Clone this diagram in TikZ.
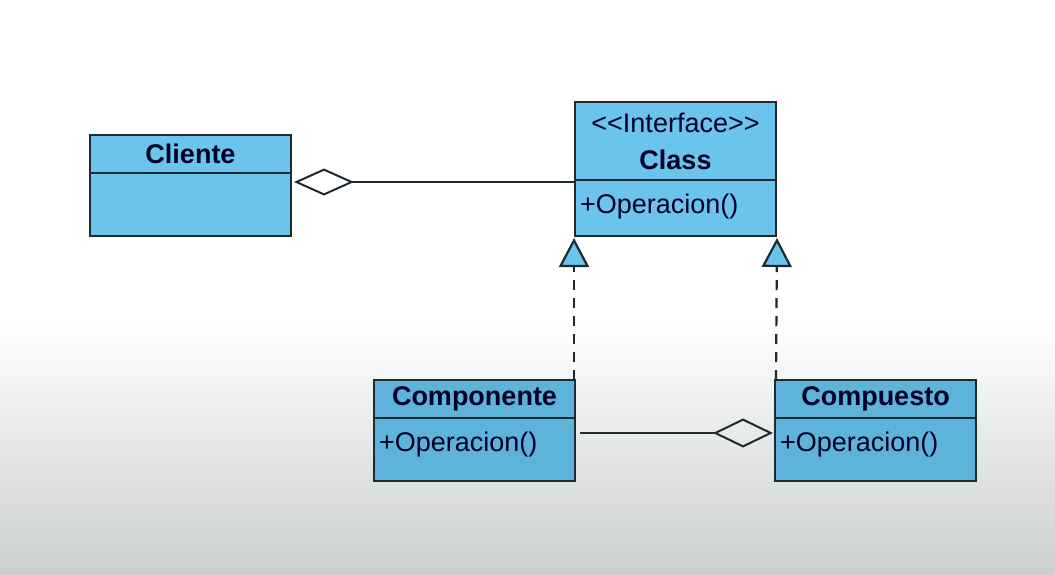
\documentclass[tikz,border=0pt]{standalone}
\usepackage{fontspec}
\setmainfont{Liberation Sans}[Ligatures=TeXOff]
\usetikzlibrary{positioning, arrows.meta}

\definecolor{boxblue}{HTML}{6AC4EB}
\definecolor{boxbluedk}{HTML}{5EB3DB}
\definecolor{lineblk}{HTML}{1E2A30}
\definecolor{bggray}{HTML}{CBCFCE}

\tikzstyle{head} = [rectangle, minimum width=201pt, minimum height=38pt,
    inner sep=0pt, outer sep=0pt, text centered, draw=lineblk, line width=2pt,
    fill=boxblue, text=black!85!blue, font=\fontsize{27}{32}\selectfont\bfseries]
\tikzstyle{body} = [rectangle, text width=191pt, inner xsep=5pt, inner ysep=0pt,
    outer sep=0pt, text height=33pt, text depth=30pt, align=left, draw=lineblk,
    line width=2pt, fill=boxblue, text=black!85!blue,
    font=\fontsize{27}{32}\selectfont]
\tikzstyle{aggr} = [line width=2pt, draw=lineblk,
    <-, >={Diamond[open, length=60pt, width=27pt, sep=3pt]}]
\tikzstyle{real} = [line width=2.2pt, draw=lineblk, dash pattern=on 10pt off 8pt,
    ->, >={Triangle[fill=boxblue, length=29pt, width=30pt, sep=2pt]}]

\begin{document}
\begin{tikzpicture}[x=1pt, y=1pt]

% Background
\fill [white] (0,0) rectangle (1055,-320);
\shade [top color=white, bottom color=bggray] (0,-320) rectangle (1055,-574);
\useasboundingbox (0,0) rectangle (1055,-574);

% Nodes
\node (cli) [head] at (190.5,-154) {Cliente};
\node (clib) [body, below=0pt of cli] {};
\node (int) [head, right=284pt of cli, yshift=13pt, minimum height=78pt,
    align=center] {{\mdseries <<Interface>>}\\[5pt]Class};
\node (intb) [body, below=0pt of int, text depth=23pt] {+Operacion()};
\node (comp) [head, below left=144pt and 0pt of intb, fill=boxbluedk] {Componente};
\node (compb) [body, below=0pt of comp, fill=boxbluedk] {+Operacion()};
\node (compu) [head, right=200pt of comp, fill=boxbluedk] {Compuesto};
\node (compub) [body, below=0pt of compu, fill=boxbluedk] {+Operacion()};

% Arrows
\draw [aggr] ([yshift=-9pt]clib.north east) -- ([yshift=-2pt]intb.north west);
\draw [aggr, shorten >=5pt, >={Diamond[open, length=60pt, width=29pt, sep=2pt]}]
    ([yshift=-15pt]compub.north west) -- ([yshift=-15pt]compb.north east);
\draw [real] ([xshift=-1pt]comp.north east) -- ([xshift=-1pt]intb.south west);
\draw [real] ([xshift=1pt]compu.north west) -- ([xshift=1pt]intb.south east);

\end{tikzpicture}
\end{document}
